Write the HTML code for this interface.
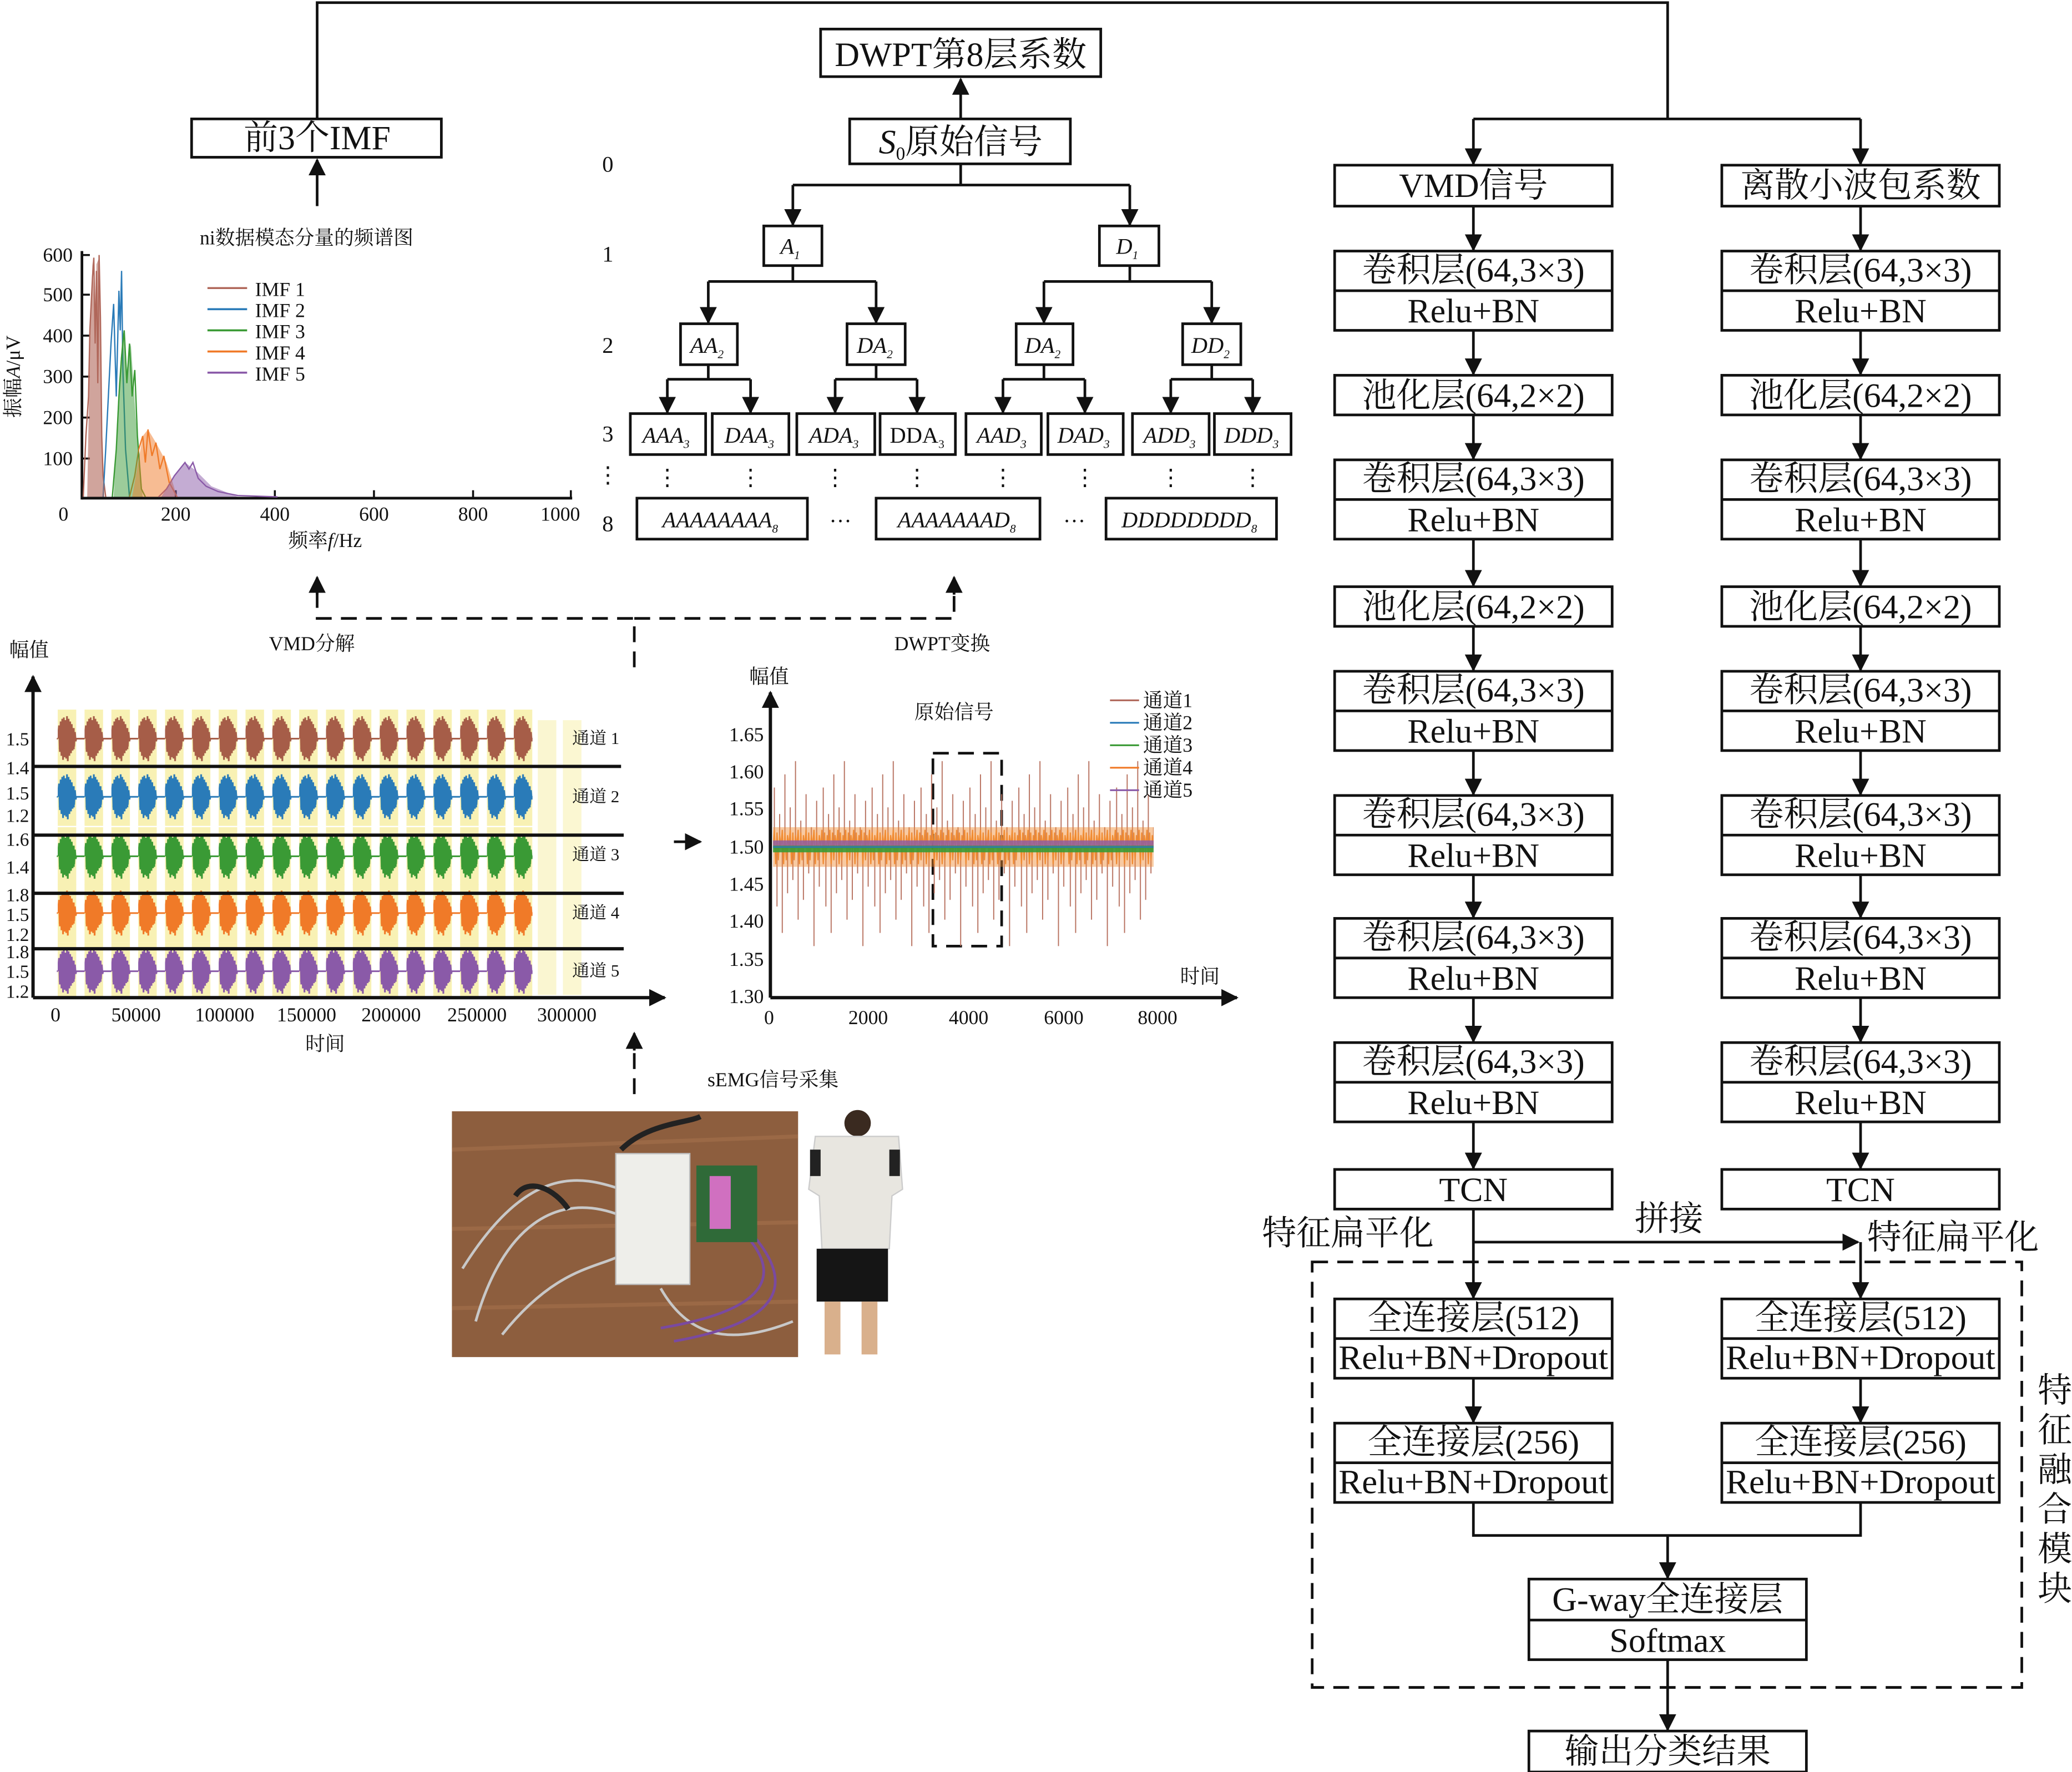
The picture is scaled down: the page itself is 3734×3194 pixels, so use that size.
<!DOCTYPE html>
<html><head><meta charset="utf-8"><style>html,body{margin:0;padding:0;background:#fff}svg{display:block}
text{font-family:"Liberation Serif","Noto Serif CJK SC",serif;fill:#111}</style></head><body>
<svg width="3734" height="3194" viewBox="0 0 1568 1341" preserveAspectRatio="none" xmlns="http://www.w3.org/2000/svg">
<defs>
<marker id="arb" viewBox="0 0 10 10" refX="9" refY="5" markerWidth="13" markerHeight="13" orient="auto" markerUnits="userSpaceOnUse"><path d="M0,0 L10,5 L0,10 z" fill="#111"/></marker>
<g id="burst"><rect x="0" y="0" width="14" height="44" fill="#f8f1b4" stroke="none"/><path d="M0,22 L1,12 L1.6,32 L2.2,9 L2.8,35 L3.4,7 L4,38 L4.6,6 L5.2,36 L5.8,8 L6.4,37 L7,5 L7.6,39 L8.2,7 L8.8,35 L9.4,9 L10,33 L10.6,11 L11.2,31 L11.8,14 L12.4,28 L13,17 L13.6,24 L14,22 L20.3,22" fill="none" stroke-width="1.3"/><rect x="0.8" y="14" width="12" height="16" stroke="none"/></g>
<pattern id="p1" patternUnits="userSpaceOnUse" x="43.7" y="537" width="20.3" height="44"><use href="#burst" stroke="#a65d48" fill="#a65d48"/></pattern>
<pattern id="p2" patternUnits="userSpaceOnUse" x="43.7" y="581" width="20.3" height="44"><use href="#burst" stroke="#2a7bb8" fill="#2a7bb8"/></pattern>
<pattern id="p3" patternUnits="userSpaceOnUse" x="43.7" y="626" width="20.3" height="44"><use href="#burst" stroke="#3a9a35" fill="#3a9a35"/></pattern>
<pattern id="p4" patternUnits="userSpaceOnUse" x="43.7" y="669" width="20.3" height="44"><use href="#burst" stroke="#f07a28" fill="#f07a28"/></pattern>
<pattern id="p5" patternUnits="userSpaceOnUse" x="43.7" y="713" width="20.3" height="44"><use href="#burst" stroke="#8a5aa8" fill="#8a5aa8"/></pattern>
<pattern id="sp" patternUnits="userSpaceOnUse" x="585" y="556" width="37" height="170">
<path d="M1,85 V40 M3,85 V130 M5,85 V60 M7,85 V150 M9,85 V30 M11,85 V120 M13,85 V55 M15,85 V110 M17,85 V20 M19,85 V140 M21,85 V65 M23,85 V125 M25,85 V45 M27,85 V105 M29,85 V70 M31,85 V160 M33,85 V50 M35,85 V115" stroke="#b7705e" stroke-width="0.8"/></pattern>
<pattern id="op" patternUnits="userSpaceOnUse" x="585" y="620" width="6" height="42">
<path d="M0,21 L1,8 L2,34 L3,10 L4,31 L5,12 L6,21" stroke="#f08a30" fill="none" stroke-width="0.9"/></pattern>
</defs>
<g stroke="#111" stroke-width="2" fill="none">
<polyline points="240,90 240,2 1262,2 1262,90"/>
<line x1="1115" y1="90" x2="1408" y2="90"/>
<line x1="1115" y1="90" x2="1115" y2="124" marker-end="url(#arb)"/>
<line x1="1408" y1="90" x2="1408" y2="124" marker-end="url(#arb)"/>
<line x1="727" y1="90" x2="727" y2="60" marker-end="url(#arb)"/>
<line x1="240" y1="156" x2="240" y2="121" marker-end="url(#arb)"/>
<rect x="621" y="22" width="212" height="36"/>
<rect x="643" y="90" width="167" height="34"/>
<rect x="145" y="90" width="189" height="29"/>
<polyline points="727,124 727,140"/><line x1="600" y1="140" x2="855" y2="140"/>
<line x1="600" y1="140" x2="600" y2="170" marker-end="url(#arb)"/><line x1="855" y1="140" x2="855" y2="170" marker-end="url(#arb)"/>
<rect x="578" y="171" width="44" height="30"/><rect x="832" y="171" width="45" height="30"/>
<line x1="600" y1="201" x2="600" y2="213"/><line x1="536" y1="213" x2="663" y2="213"/>
<line x1="855" y1="201" x2="855" y2="213"/><line x1="790" y1="213" x2="917" y2="213"/>
<line x1="536" y1="213" x2="536" y2="244" marker-end="url(#arb)"/><line x1="663" y1="213" x2="663" y2="244" marker-end="url(#arb)"/>
<line x1="790" y1="213" x2="790" y2="244" marker-end="url(#arb)"/><line x1="917" y1="213" x2="917" y2="244" marker-end="url(#arb)"/>
<rect x="515" y="245" width="43" height="31"/><rect x="641" y="245" width="44" height="31"/><rect x="769" y="245" width="43" height="31"/><rect x="895" y="245" width="44" height="31"/>
<line x1="536" y1="276" x2="536" y2="287"/><line x1="505" y1="287" x2="568" y2="287"/>
<line x1="663" y1="276" x2="663" y2="287"/><line x1="632" y1="287" x2="694" y2="287"/>
<line x1="790" y1="276" x2="790" y2="287"/><line x1="759" y1="287" x2="821" y2="287"/>
<line x1="917" y1="276" x2="917" y2="287"/><line x1="886" y1="287" x2="948" y2="287"/>
<g marker-end="url(#arb)">
<line x1="505" y1="287" x2="505" y2="312"/><line x1="568" y1="287" x2="568" y2="312"/><line x1="632" y1="287" x2="632" y2="312"/><line x1="694" y1="287" x2="694" y2="312"/>
<line x1="759" y1="287" x2="759" y2="312"/><line x1="821" y1="287" x2="821" y2="312"/><line x1="886" y1="287" x2="886" y2="312"/><line x1="948" y1="287" x2="948" y2="312"/>
</g>
<rect x="477" y="313" width="57" height="31"/><rect x="539" y="313" width="58" height="31"/><rect x="603" y="313" width="59" height="31"/><rect x="666" y="313" width="57" height="31"/>
<rect x="731" y="313" width="57" height="31"/><rect x="793" y="313" width="57" height="31"/><rect x="857" y="313" width="58" height="31"/><rect x="919" y="313" width="58" height="31"/>
<rect x="482" y="377" width="129" height="31"/><rect x="663" y="377" width="124" height="31"/><rect x="837" y="377" width="129" height="31"/>
<g stroke-dasharray="12,7"><polyline points="480,505 480,468 240,468 240,440"/><polyline points="480,468 722,468 722,440"/><line x1="480" y1="828" x2="480" y2="786"/>
<rect x="706" y="570" width="52" height="146"/><rect x="993" y="955" width="537" height="322"/></g>
<line x1="240" y1="450" x2="240" y2="437" marker-end="url(#arb)"/><line x1="722" y1="450" x2="722" y2="437" marker-end="url(#arb)"/><line x1="480" y1="795" x2="480" y2="782" marker-end="url(#arb)"/>
<line x1="510" y1="637" x2="530" y2="637" marker-end="url(#arb)"/>
<line x1="62" y1="190" x2="62" y2="378"/><line x1="62" y1="377" x2="433" y2="377"/>
<g stroke-width="1.5"><line x1="62" y1="193" x2="68" y2="193"/><line x1="62" y1="223" x2="68" y2="223"/><line x1="62" y1="254" x2="68" y2="254"/><line x1="62" y1="285" x2="68" y2="285"/><line x1="62" y1="316" x2="68" y2="316"/><line x1="62" y1="347" x2="68" y2="347"/>
<line x1="133" y1="377" x2="133" y2="371"/><line x1="208" y1="377" x2="208" y2="371"/><line x1="283" y1="377" x2="283" y2="371"/><line x1="358" y1="377" x2="358" y2="371"/><line x1="432" y1="377" x2="432" y2="371"/></g>
</g>
<g fill="none" stroke-width="1">
<polyline stroke="#b0675a" points="63,376 65,330 67,300 68,250 70,210 71,195 72,260 73,205 74,290 75,193 76,240 77,330 78,360 80,376"/>
<polyline stroke="#2a7bb8" points="78,376 80,340 82,300 84,260 86,230 88,300 90,220 91,250 92,205 93,280 95,340 98,376"/>
<polyline stroke="#3a9a35" points="85,376 88,340 90,300 92,270 94,250 96,290 98,260 100,300 102,280 104,330 107,370 110,376"/>
<polyline stroke="#f07a28" points="98,376 102,360 105,340 108,330 110,350 112,325 115,345 118,335 121,355 124,345 128,365 134,376"/>
<polyline stroke="#8a5aa8" points="120,376 126,370 132,360 136,355 140,350 143,355 146,350 150,362 156,368 165,372 180,375 210,376"/>
</g>
<g fill="#b0675a"><path d="M66,376 L68,260 L70,198 L72,250 L73,200 L75,195 L77,330 L79,376Z" opacity="0.6"/></g>
<g fill="#3a9a35" opacity="0.5"><path d="M86,376 L90,290 L93,250 L96,280 L99,260 L103,320 L108,376Z"/></g>
<g fill="#f07a28" opacity="0.5"><path d="M100,376 L108,330 L112,325 L118,335 L126,350 L134,376Z"/></g>
<g fill="#8a5aa8" opacity="0.5"><path d="M122,376 L135,356 L140,350 L148,356 L160,368 L180,376Z"/></g>
<g stroke-width="1.5"><line x1="157" y1="218" x2="187" y2="218" stroke="#b0675a"/><line x1="157" y1="234" x2="187" y2="234" stroke="#2a7bb8"/><line x1="157" y1="250" x2="187" y2="250" stroke="#3a9a35"/><line x1="157" y1="266" x2="187" y2="266" stroke="#f07a28"/><line x1="157" y1="282" x2="187" y2="282" stroke="#8a5aa8"/></g>
<g font-size="15"><text x="193" y="224">IMF 1</text><text x="193" y="240">IMF 2</text><text x="193" y="256">IMF 3</text><text x="193" y="272">IMF 4</text><text x="193" y="288">IMF 5</text></g>
<g font-size="15" text-anchor="end"><text x="55" y="198">600</text><text x="55" y="228">500</text><text x="55" y="259">400</text><text x="55" y="290">300</text><text x="55" y="321">200</text><text x="55" y="352">100</text></g>
<g font-size="15" text-anchor="middle"><text x="48" y="394">0</text><text x="133" y="394">200</text><text x="208" y="394">400</text><text x="283" y="394">600</text><text x="358" y="394">800</text><text x="424" y="394">1000</text>
<text x="246" y="414">频率<tspan font-style="italic">f</tspan>/Hz</text><text x="232" y="185">ni数据模态分量的频谱图</text></g>
<text font-size="15" text-anchor="middle" transform="translate(15,285) rotate(-90)">振幅<tspan font-style="italic">A</tspan>/μV</text>
<rect x="43" y="537" width="360" height="44" fill="url(#p1)"/><rect x="43" y="581" width="360" height="44" fill="url(#p2)"/><rect x="43" y="626" width="360" height="44" fill="url(#p3)"/><rect x="43" y="669" width="360" height="44" fill="url(#p4)"/><rect x="43" y="713" width="360" height="42" fill="url(#p5)"/>
<g fill="#f8f1b4" opacity="0.6"><rect x="407" y="545" width="14" height="208"/><rect x="426" y="545" width="14" height="208"/></g>
<g stroke="#111" stroke-width="2.5" fill="none">
<line x1="25" y1="755" x2="25" y2="512" marker-end="url(#arb)"/><line x1="25" y1="755" x2="503" y2="755" marker-end="url(#arb)"/>
<line x1="25" y1="580" x2="470" y2="580"/><line x1="25" y1="632" x2="472" y2="632"/><line x1="25" y1="676" x2="472" y2="676"/><line x1="25" y1="718" x2="472" y2="718"/>
</g>
<g font-size="13"><text x="433" y="563">通道 1</text><text x="433" y="607">通道 2</text><text x="433" y="651">通道 3</text><text x="433" y="695">通道 4</text><text x="433" y="739">通道 5</text></g>
<g font-size="14" text-anchor="end"><text x="22" y="564">1.5</text><text x="22" y="586">1.4</text><text x="22" y="605">1.5</text><text x="22" y="622">1.2</text><text x="22" y="640">1.6</text><text x="22" y="661">1.4</text><text x="22" y="682">1.8</text><text x="22" y="697">1.5</text><text x="22" y="712">1.2</text><text x="22" y="725">1.8</text><text x="22" y="740">1.5</text><text x="22" y="755">1.2</text></g>
<g font-size="15" text-anchor="middle"><text x="42" y="773">0</text><text x="103" y="773">50000</text><text x="170" y="773">100000</text><text x="232" y="773">150000</text><text x="296" y="773">200000</text><text x="361" y="773">250000</text><text x="429" y="773">300000</text>
<text x="246" y="795">时间</text><text x="22" y="497">幅值</text><text x="236" y="492">VMD分解</text><text x="713" y="492">DWPT变换</text><text x="585" y="822">sEMG信号采集</text></g>
<rect x="585" y="556" width="288" height="170" fill="url(#sp)"/>
<rect x="585" y="620" width="288" height="42" fill="url(#op)"/>
<rect x="585" y="626" width="288" height="30" fill="#f08a30" opacity="0.45"/>
<rect x="585" y="636" width="288" height="6" fill="#8a5aa8" opacity="0.8"/>
<rect x="585" y="640" width="288" height="5" fill="#3a9a35" opacity="0.9"/>
<line x1="585" y1="641" x2="873" y2="641" stroke="#2a7bb8" stroke-width="1"/>
<g stroke="#111" stroke-width="2.5" fill="none"><line x1="583" y1="755" x2="583" y2="524" marker-end="url(#arb)"/><line x1="583" y1="755" x2="936" y2="755" marker-end="url(#arb)"/></g>
<g font-size="15" text-anchor="end"><text x="578" y="561">1.65</text><text x="578" y="589">1.60</text><text x="578" y="617">1.55</text><text x="578" y="646">1.50</text><text x="578" y="674">1.45</text><text x="578" y="702">1.40</text><text x="578" y="731">1.35</text><text x="578" y="759">1.30</text></g>
<g font-size="15" text-anchor="middle"><text x="582" y="775">0</text><text x="657" y="775">2000</text><text x="733" y="775">4000</text><text x="805" y="775">6000</text><text x="876" y="775">8000</text><text x="908" y="744">时间</text><text x="582" y="517">幅值</text><text x="722" y="544">原始信号</text></g>
<g stroke-width="1.3"><line x1="840" y1="530" x2="862" y2="530" stroke="#b0675a"/><line x1="840" y1="547" x2="862" y2="547" stroke="#2a7bb8"/><line x1="840" y1="564" x2="862" y2="564" stroke="#3a9a35"/><line x1="840" y1="581" x2="862" y2="581" stroke="#f07a28"/><line x1="840" y1="598" x2="862" y2="598" stroke="#8a5aa8"/></g>
<g font-size="15"><text x="865" y="535">通道1</text><text x="865" y="552">通道2</text><text x="865" y="569">通道3</text><text x="865" y="586">通道4</text><text x="865" y="603">通道5</text></g>
<rect x="342" y="841" width="262" height="186" fill="#8d5e3e"/>
<g stroke="#a5714c" stroke-width="3" opacity="0.6"><line x1="342" y1="870" x2="604" y2="860"/><line x1="342" y1="930" x2="604" y2="925"/><line x1="342" y1="990" x2="604" y2="985"/></g>
<g fill="none" stroke="#c8c8c8" stroke-width="2"><path d="M360,1000 C380,930 420,900 470,920"/><path d="M350,960 C400,880 440,890 470,900"/><path d="M380,1010 C420,960 450,960 470,950"/><path d="M500,975 C520,1010 550,1020 600,1000"/></g>
<g fill="none" stroke="#7a4aa0" stroke-width="2"><path d="M560,930 C590,960 590,990 500,1005"/><path d="M570,935 C600,970 595,1000 510,1015"/></g>
<g fill="none" stroke="#222" stroke-width="4"><path d="M390,905 C400,890 420,900 430,915"/><path d="M470,870 C490,850 520,850 530,845"/></g>
<rect x="466" y="873" width="56" height="99" fill="#eeeeea" stroke="#bbb" stroke-width="1"/>
<rect x="527" y="882" width="46" height="58" fill="#2f6a38"/><rect x="537" y="890" width="16" height="40" fill="#d070c0"/>
<rect x="604" y="841" width="86" height="186" fill="#fff"/>
<circle cx="649" cy="850" r="10" fill="#3a2a20"/>
<path d="M617,860 L680,860 L683,900 L675,905 L673,945 L622,945 L620,905 L612,900Z" fill="#e8e6e0" stroke="#ccc"/>
<rect x="618" y="945" width="54" height="40" fill="#151515"/>
<rect x="624" y="985" width="12" height="40" fill="#d9b08c"/><rect x="652" y="985" width="12" height="40" fill="#d9b08c"/>
<rect x="613" y="870" width="8" height="20" fill="#222"/><rect x="673" y="870" width="8" height="20" fill="#222"/>
<g font-size="26" text-anchor="middle">
<text x="727" y="50">DWPT第8层系数</text>
<text x="727" y="116"><tspan font-style="italic">S</tspan><tspan font-size="14" dy="5">0</tspan><tspan dy="-5">原始信号</tspan></text>
<text x="240" y="113">前3个IMF</text>
</g>
<g font-size="17" font-style="italic" text-anchor="middle">
<text x="598" y="192">A<tspan font-size="9" dy="4">1</tspan></text><text x="853" y="192">D<tspan font-size="9" dy="4">1</tspan></text>
<text x="535" y="267">AA<tspan font-size="9" dy="4">2</tspan></text><text x="662" y="267">DA<tspan font-size="9" dy="4">2</tspan></text><text x="789" y="267">DA<tspan font-size="9" dy="4">2</tspan></text><text x="916" y="267">DD<tspan font-size="9" dy="4">2</tspan></text>
<text x="504" y="335">AAA<tspan font-size="9" dy="4">3</tspan></text><text x="567" y="335">DAA<tspan font-size="9" dy="4">3</tspan></text><text x="631" y="335">ADA<tspan font-size="9" dy="4">3</tspan></text><text x="694" y="335" font-style="normal">DDA<tspan font-size="9" dy="4">3</tspan></text>
<text x="758" y="335">AAD<tspan font-size="9" dy="4">3</tspan></text><text x="820" y="335">DAD<tspan font-size="9" dy="4">3</tspan></text><text x="885" y="335">ADD<tspan font-size="9" dy="4">3</tspan></text><text x="947" y="335">DDD<tspan font-size="9" dy="4">3</tspan></text>
<text x="545" y="399">AAAAAAAA<tspan font-size="9" dy="4">8</tspan></text><text x="724" y="399">AAAAAAAD<tspan font-size="9" dy="4">8</tspan></text><text x="900" y="399">DDDDDDDD<tspan font-size="9" dy="4">8</tspan></text>
</g>
<g font-size="17" text-anchor="middle"><text x="460" y="130">0</text><text x="460" y="198">1</text><text x="460" y="267">2</text><text x="460" y="334">3</text><text x="460" y="365">⋮</text><text x="460" y="402">8</text>
<text x="636" y="400">···</text><text x="813" y="400">···</text>
<text x="505" y="367">⋮</text><text x="568" y="367">⋮</text><text x="632" y="367">⋮</text><text x="694" y="367">⋮</text><text x="759" y="367">⋮</text><text x="821" y="367">⋮</text><text x="886" y="367">⋮</text><text x="948" y="367">⋮</text></g>
<g stroke="#111" stroke-width="2" fill="none">
<rect x="1010" y="125" width="210" height="31"/><rect x="1303" y="125" width="210" height="31"/>
<g id="col">
<rect x="1010" y="190" width="210" height="60"/><line x1="1010" y1="220" x2="1220" y2="220"/>
<rect x="1010" y="284" width="210" height="30"/>
<rect x="1010" y="348" width="210" height="60"/><line x1="1010" y1="378" x2="1220" y2="378"/>
<rect x="1010" y="444" width="210" height="30"/>
<rect x="1010" y="508" width="210" height="60"/><line x1="1010" y1="538" x2="1220" y2="538"/>
<rect x="1010" y="602" width="210" height="60"/><line x1="1010" y1="632" x2="1220" y2="632"/>
<rect x="1010" y="695" width="210" height="60"/><line x1="1010" y1="725" x2="1220" y2="725"/>
<rect x="1010" y="789" width="210" height="60"/><line x1="1010" y1="819" x2="1220" y2="819"/>
<rect x="1010" y="885" width="210" height="30"/>
<g marker-end="url(#arb)">
<line x1="1115" y1="156" x2="1115" y2="189"/><line x1="1115" y1="250" x2="1115" y2="283"/><line x1="1115" y1="314" x2="1115" y2="347"/><line x1="1115" y1="408" x2="1115" y2="443"/><line x1="1115" y1="474" x2="1115" y2="507"/><line x1="1115" y1="568" x2="1115" y2="601"/><line x1="1115" y1="662" x2="1115" y2="694"/><line x1="1115" y1="755" x2="1115" y2="788"/><line x1="1115" y1="849" x2="1115" y2="884"/>
</g>
<rect x="1010" y="983" width="210" height="60"/><line x1="1010" y1="1013" x2="1220" y2="1013"/>
<rect x="1010" y="1077" width="210" height="60"/><line x1="1010" y1="1107" x2="1220" y2="1107"/>
<line x1="1115" y1="1043" x2="1115" y2="1076" marker-end="url(#arb)"/>
</g>
<use href="#col" x="293"/>
<line x1="1115" y1="915" x2="1115" y2="982" marker-end="url(#arb)"/>
<line x1="1115" y1="940" x2="1406" y2="940" marker-end="url(#arb)"/>
<line x1="1408" y1="940" x2="1408" y2="982" marker-end="url(#arb)"/>
<polyline points="1115,1137 1115,1162 1408,1162 1408,1137"/>
<line x1="1262" y1="1162" x2="1262" y2="1194" marker-end="url(#arb)"/>
<rect x="1157" y="1195" width="210" height="61"/><line x1="1157" y1="1226" x2="1367" y2="1226"/>
<line x1="1262" y1="1256" x2="1262" y2="1309" marker-end="url(#arb)"/>
<rect x="1157" y="1310" width="210" height="31"/>
</g>
<g font-size="26" text-anchor="middle">
<text x="1115" y="149">VMD信号</text><text x="1408" y="149">离散小波包系数</text>
<g id="ct">
<text x="1115" y="213">卷积层(64,3×3)</text><text x="1115" y="244">Relu+BN</text>
<text x="1115" y="308">池化层(64,2×2)</text>
<text x="1115" y="371">卷积层(64,3×3)</text><text x="1115" y="402">Relu+BN</text>
<text x="1115" y="468">池化层(64,2×2)</text>
<text x="1115" y="531">卷积层(64,3×3)</text><text x="1115" y="562">Relu+BN</text>
<text x="1115" y="625">卷积层(64,3×3)</text><text x="1115" y="656">Relu+BN</text>
<text x="1115" y="718">卷积层(64,3×3)</text><text x="1115" y="749">Relu+BN</text>
<text x="1115" y="812">卷积层(64,3×3)</text><text x="1115" y="843">Relu+BN</text>
<text x="1115" y="909">TCN</text>
<text x="1115" y="1006">全连接层(512)</text><text x="1115" y="1036" textLength="204" lengthAdjust="spacingAndGlyphs">Relu+BN+Dropout</text>
<text x="1115" y="1100">全连接层(256)</text><text x="1115" y="1130" textLength="204" lengthAdjust="spacingAndGlyphs">Relu+BN+Dropout</text>
</g>
<use href="#ct" x="293"/>
<text x="1262" y="1219">G-way全连接层</text><text x="1262" y="1250">Softmax</text>
<text x="1262" y="1334">输出分类结果</text>
<text x="1020" y="942">特征扁平化</text><text x="1478" y="945">特征扁平化</text><text x="1263" y="931">拼接</text>
<text x="1555" y="1061">特</text><text x="1555" y="1091">征</text><text x="1555" y="1121">融</text><text x="1555" y="1151">合</text><text x="1555" y="1181">模</text><text x="1555" y="1211">块</text>
</g>
</svg>
</body></html>
